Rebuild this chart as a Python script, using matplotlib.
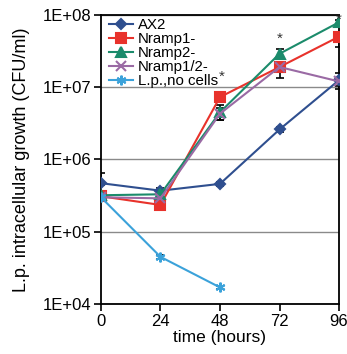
import numpy as np
import matplotlib.pyplot as plt

plt.rcParams['font.family'] = ['Liberation Sans', 'DejaVu Sans']

# time points (hours)
hours = [0, 24, 48, 72, 96]
hours_ctrl = [0, 24, 48]

# CFU/ml
ax2 = [4.7e5, 3.7e5, 4.6e5, 2.6e6, 1.25e7]
nramp1 = [3.1e5, 2.35e5, 7.3e6, 1.9e7, 5.0e7]
nramp2 = [3.2e5, 3.3e5, 4.5e6, 2.9e7, 7.9e7]
nramp12 = [3.0e5, 2.9e5, 4.3e6, 1.9e7, 1.2e7]
no_cells = [3.0e5, 4.5e4, 1.7e4]

# error bars (lower, upper)
ax2_err = [[0.3e5, 0.3e5, 0.3e5, 0.2e6, 0.3e7], [1.8e5, 0.3e5, 0.3e5, 0.2e6, 0.3e7]]
nramp1_err = [[0.2e5, 0.2e5, 0.5e6, 0.3e7, 1.4e7], [0.2e5, 0.2e5, 0.5e6, 0.3e7, 0.5e7]]
nramp2_err = [[0.2e5, 0.2e5, 1.0e6, 0.4e7, 0.5e7], [0.2e5, 0.2e5, 1.1e6, 0.5e7, 0.5e7]]
nramp12_err = [[0.2e5, 0.2e5, 0.8e6, 0.55e7, 0.15e7], [0.2e5, 0.2e5, 0.8e6, 0.3e7, 0.15e7]]
no_cells_err = [[0.2e5, 0.3e4, 0.1e4], [0.2e5, 0.3e4, 0.1e4]]

# significance markers
star_x = [48.5, 72, 96]
star_y = [1.4e7, 4.6e7, 8.6e7]

fig = plt.figure(figsize=(3.47, 3.54), dpi=100)
ax = fig.add_axes([0.291, 0.141, 0.686, 0.817])

series = [
    (hours, ax2, ax2_err, 'AX2', '#2f4f8f', 'D', 5),
    (hours, nramp1, nramp1_err, 'Nramp1-', '#e8322b', 's', 7),
    (hours, nramp2, nramp2_err, 'Nramp2-', '#1b8b6b', '^', 7),
    (hours, nramp12, nramp12_err, 'Nramp1/2-', '#9a6aa4', 'x', 7),
    (hours_ctrl, no_cells, no_cells_err, 'L.p.,no cells', '#3ba2da', (6, 2, 0), 7),
]

for x, y, err, label, color, marker, ms in series:
    ax.errorbar(x, y, yerr=err, fmt='none', ecolor='black', elinewidth=1.2,
                capsize=3, capthick=1.2, zorder=2)
    ax.plot(x, y, color=color, marker=marker, markersize=ms, linewidth=1.5,
            markeredgewidth=1.5, label=label, zorder=3)

for sx, sy in zip(star_x, star_y):
    ax.text(sx, sy, '*', ha='center', va='center', fontsize=11, color='#333333')

ax.set_yscale('log')
ax.set_ylim(1e4, 1e8)
ax.set_xlim(0, 96)
ax.set_xticks([0, 24, 48, 72, 96])
ax.set_yticks([1e4, 1e5, 1e6, 1e7, 1e8])
ax.set_yticklabels(['1E+04', '1E+05', '1E+06', '1E+07', '1E+08'])
ax.minorticks_off()
ax.yaxis.grid(True, color='#8a8a8a', linewidth=1.0)
ax.set_axisbelow(True)
ax.tick_params(labelsize=12, length=5, width=1.2, pad=2)
for s in ax.spines.values():
    s.set_linewidth(1.3)

ax.set_xlabel('time (hours)', fontsize=12.5, labelpad=1)
ax.set_ylabel('L.p. intracellular growth (CFU/ml)', fontsize=13, labelpad=9)

ax.legend(loc='upper left', bbox_to_anchor=(-0.01, 1.025), frameon=False, fontsize=10.8,
          handlelength=1.6, handletextpad=0.3, labelspacing=0.0, borderpad=0.2)

fig.savefig('out.png', dpi=100)
